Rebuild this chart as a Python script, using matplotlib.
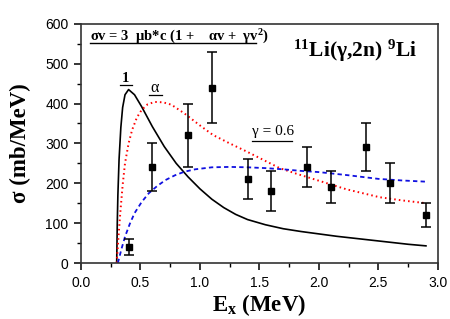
import matplotlib
matplotlib.use('Agg')
import matplotlib.pyplot as plt
from matplotlib.ticker import MultipleLocator

plt.rcParams['font.family'] = ['Liberation Sans', 'DejaVu Sans']
plt.rcParams['mathtext.fontset'] = 'custom'
plt.rcParams['mathtext.rm'] = 'Liberation Serif'
plt.rcParams['mathtext.it'] = 'Liberation Serif:italic'
plt.rcParams['mathtext.bf'] = 'Liberation Serif:bold'

# 実験データ
data_x = [0.4, 0.6, 0.9, 1.1, 1.4, 1.6, 1.9, 2.1, 2.4, 2.6, 2.9]
data_y = [40, 240, 320, 440, 210, 180, 240, 190, 290, 200, 120]
data_lo = [20, 60, 80, 90, 50, 50, 50, 40, 60, 50, 30]
data_hi = [20, 60, 80, 90, 50, 50, 50, 40, 60, 50, 30]

# 曲線 "1"
c1_x = [0.30, 0.305, 0.31, 0.32, 0.335, 0.35, 0.37, 0.40, 0.45, 0.51, 0.60, 0.70,
        0.80, 0.90, 1.00, 1.10, 1.20, 1.30, 1.40, 1.55, 1.70, 1.85, 2.00, 2.15, 2.30,
        2.45, 2.60, 2.75, 2.90]
c1_y = [0, 100, 170, 260, 340, 390, 422, 435, 422, 392, 342, 292,
        250, 216, 186, 160, 139, 122, 109, 96, 86, 79, 73, 67, 62,
        57, 52, 47, 43]

# 曲線 "alpha"
ca_x = [0.30, 0.315, 0.33, 0.35, 0.37, 0.40, 0.43, 0.47, 0.51, 0.56, 0.62, 0.69, 0.76,
        0.87, 1.00, 1.11, 1.25, 1.39, 1.53, 1.67, 1.81, 1.95, 2.09, 2.23, 2.37, 2.51,
        2.70, 2.90]
ca_y = [0, 65, 125, 195, 250, 300, 334, 365, 384, 398, 404, 403, 397,
        375, 345, 321, 300, 280, 259, 238, 224, 211, 198, 185, 175, 165,
        157, 150]

# 曲線 "gamma = 0.6"
cg_x = [0.31, 0.34, 0.37, 0.41, 0.45, 0.51, 0.57, 0.64, 0.71, 0.79, 0.87, 0.96, 1.10,
        1.25, 1.40, 1.55, 1.70, 1.85, 2.00, 2.25, 2.50, 2.70, 2.90]
cg_y = [0, 35, 66, 98, 125, 153, 175, 193, 208, 220, 229, 235, 240,
        241, 240, 238, 235, 231, 228, 220, 211, 207, 204]

fig = plt.figure(figsize=(4.5, 3.19), dpi=100)
ax = fig.add_axes([0.18, 0.1755, 0.793, 0.75])

ax.plot(c1_x, c1_y, color='black', lw=1.2)
ax.plot(ca_x, ca_y, color='red', lw=1.4, linestyle=(0, (0.8, 1.6)))
ax.plot(cg_x, cg_y, color='#1010e0', lw=1.3, linestyle=(0, (2.4, 1.8)))
ax.errorbar(data_x, data_y, yerr=[data_lo, data_hi], fmt='s', color='black',
            ms=5, capsize=3.5, elinewidth=1.1, capthick=1.1)

ax.set_xlim(0, 3.0)
ax.set_ylim(0, 600)
ax.xaxis.set_major_locator(MultipleLocator(0.5))
ax.xaxis.set_minor_locator(MultipleLocator(0.25))
ax.yaxis.set_major_locator(MultipleLocator(100))
ax.yaxis.set_minor_locator(MultipleLocator(50))
ax.set_xticklabels([f'{v:.1f}' for v in ax.get_xticks()])
ax.tick_params(which='major', direction='out', length=5, width=1.1, labelsize=10, pad=4)
ax.tick_params(which='minor', direction='out', length=3, width=1.0)
for s in ax.spines.values():
    s.set_linewidth(1.2)
    s.set_color('#333333')

serif = 'Liberation Serif'
ax.set_xlabel('E$_{\\mathbf{x}}$ (MeV)', family=serif, fontweight='bold', fontsize=16.5, labelpad=2)
ax.set_ylabel('σ (mb/MeV)', family=serif, fontweight='bold', fontsize=16.5, labelpad=10)

# 式と反応
ax.text(0.025, 0.929, 'σv = 3  μb*c (1 +    αv +  γv$^{\\mathbf{2}}$)', transform=ax.transAxes,
        family=serif, fontweight='bold', fontsize=10.5, ha='left', va='baseline')
ax.plot([0.025, 0.49], [0.918, 0.918], transform=ax.transAxes, color='black', lw=1.0)
ax.text(0.595, 0.862, '$^{\\mathbf{11}}$Li(γ,2n) $^{\\mathbf{9}}$Li', transform=ax.transAxes,
        family=serif, fontweight='bold', fontsize=15.5, ha='left', va='baseline')

# 曲線ラベル
ax.text(0.126, 0.757, '1', transform=ax.transAxes, family=serif, fontweight='bold',
        fontsize=10.5, ha='center', va='baseline')
ax.plot([0.108, 0.144], [0.745, 0.745], transform=ax.transAxes, color='black', lw=0.9)
ax.text(0.207, 0.715, 'α', transform=ax.transAxes, family=serif,
        fontsize=11.5, ha='center', va='baseline')
ax.plot([0.19, 0.226], [0.703, 0.703], transform=ax.transAxes, color='black', lw=0.9)
ax.text(0.479, 0.535, 'γ = 0.6', transform=ax.transAxes, family=serif,
        fontsize=11, ha='left', va='baseline')
ax.plot([0.479, 0.592], [0.512, 0.512], transform=ax.transAxes, color='black', lw=0.9)

fig.savefig('out.png', dpi=100)
